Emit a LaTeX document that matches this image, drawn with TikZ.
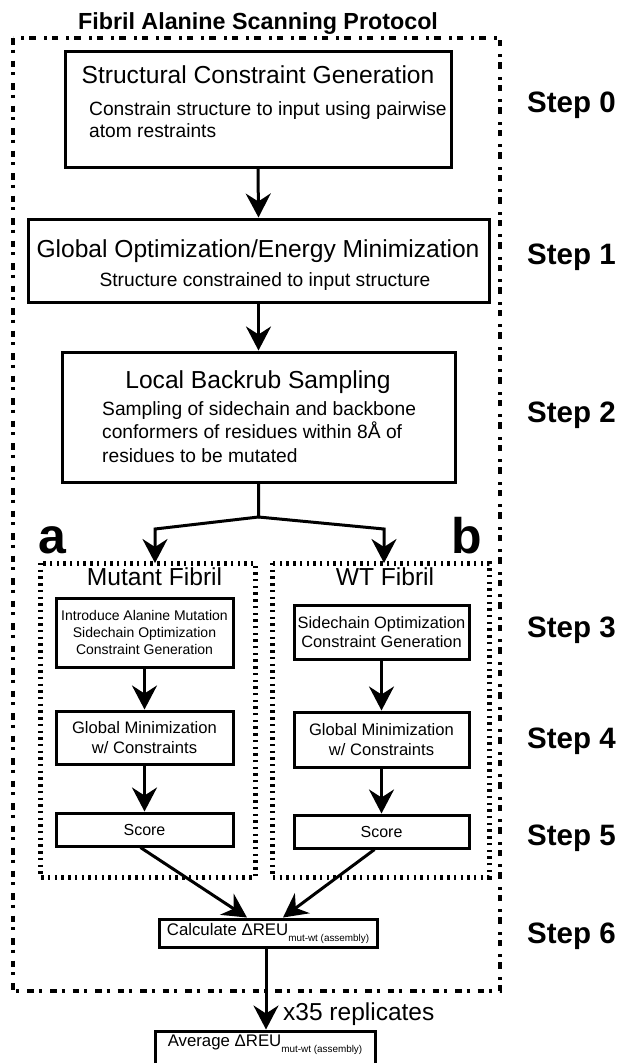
\documentclass[tikz,border=0pt]{standalone}
\usepackage{fontspec}
\setmainfont{Liberation Sans}
\usetikzlibrary{arrows.meta,calc}
\newcommand{\fsz}[2]{\fontsize{#1}{#2}\selectfont}
\newcommand{\mwt}{\raisebox{-6pt}{\fsz{9.9}{11}\selectfont mut-wt (assembly)}}

\begin{document}
\begin{tikzpicture}[x=1pt,y=-1pt,
  box/.style={draw, line width=3pt, inner sep=0pt, rectangle, align=center},
  flow/.style={line width=3pt, -{Stealth[length=24pt,width=25pt,inset=8pt]}},
  frame/.style={line width=3.4pt, dash pattern=on 6.5pt off 5pt on 3pt off 8pt},
  fibril/.style={line width=5pt, dash pattern=on 2.4pt off 4.3pt},
  steplbl/.style={anchor=base west, inner sep=0pt, font=\fsz{29.5}{35}\bfseries},
  head/.style={anchor=base, inner sep=0pt, font=\fsz{24.6}{29}},
  body/.style={anchor=base west, inner sep=0pt, font=\fsz{19.2}{23}},
  bigletter/.style={anchor=base west, inner sep=0pt, font=\fsz{50}{58}\bfseries},
]
\useasboundingbox (0,0) rectangle (624,1063);
\clip (0,0) rectangle (624,1063);

% title
\node[anchor=base, inner sep=0pt, font=\fsz{23.3}{28}\bfseries] (title) at (258,29) {Fibril Alanine Scanning Protocol};

% outer frame
\draw[frame] (13,38) rectangle (500,991);

% step 0
\node[box, minimum width=386pt, minimum height=116pt] (s0) at (258,109) {};
\node[head] (s0t) at (258,83) {Structural Constraint Generation};
\node[body] (s0a) at (89,115) {Constrain structure to input using pairwise};
\node[body] (s0b) at (89,137) {atom restraints};

% step 1
\node[box, minimum width=461pt, minimum height=83pt] (s1) at (258.5,260.5) {};
\node[head] (s1t) at (258,257) {Global Optimization/Energy Minimization};
\node[body, anchor=base] (s1a) at (265,286) {Structure constrained to input structure};

% step 2
\node[box, minimum width=393pt, minimum height=130pt] (s2) at (258.5,417) {};
\node[head] (s2t) at (258,388) {Local Backrub Sampling};
\node[body] (s2a) at (102,415) {Sampling of sidechain and backbone};
\node[body] (s2b) at (102,438.5) {conformers of residues within 8Å of};
\node[body] (s2c) at (102,462) {residues to be mutated};

\draw[flow] (s0.south) -- (s1.north);
\draw[flow] (s1.south) -- (s2.north);

% branches
\node[bigletter] (la) at (38,553) {a};
\node[bigletter] (lb) at (451,553) {b};

\draw[fibril] (40.5,563) rectangle (255,877);
\draw[fibril] (272,563) rectangle (489,877);
\coordinate (fa) at (155,563);
\coordinate (fb) at (384,563);
\coordinate (split) at (258.5,517);
\coordinate (ja) at (155,529);
\coordinate (jb) at (384,529);
\draw[flow] (s2.south) -- (split) -- (ja) -- (fa);
\draw[flow] (split) -- (jb) -- (fb);

\node[head] (mut) at (154.5,585) {Mutant Fibril};
\node[head] (wt) at (385,585) {WT Fibril};

% mutant column
\node[box, minimum width=177pt, minimum height=69pt, font=\fsz{14}{17}] (a3) at (144.5,632.5)
  {Introduce Alanine Mutation\\Sidechain Optimization\\Constraint Generation};
\node[box, minimum width=177pt, minimum height=53pt, font=\fsz{16.6}{19.5}] (a4) at (144.5,737.5)
  {Global Minimization\\w/ Constraints};
\node[box, minimum width=177pt, minimum height=33pt, font=\fsz{16}{19}] (a5) at (144.5,829.5) {Score};
\draw[flow] (a3.south) -- (a4.north);
\draw[flow] (a4.south) -- (a5.north);

% wild-type column
\node[box, minimum width=175pt, minimum height=54pt, font=\fsz{16.4}{19.5}] (b3) at (381.5,632)
  {Sidechain Optimization\\Constraint Generation};
\node[box, minimum width=175pt, minimum height=55pt, font=\fsz{16.6}{19.5}] (b4) at (381.5,739.5)
  {Global Minimization\\w/ Constraints};
\node[box, minimum width=175pt, minimum height=33pt, font=\fsz{16}{19}] (b5) at (381.5,831.5) {Score};
\draw[flow] (b3.south) -- (b4.north);
\draw[flow] (b4.south) -- (b5.north);

% step 6 and average
\node[box, minimum width=218pt, minimum height=28pt, text height=13pt, text depth=9pt, font=\fsz{16.8}{20}] (calc) at (268,933)
  {Calculate ΔREU\mwt};
\draw[flow] ($(a5.south)+(-4,0)$) -- ($(calc.north)+(-21,0)$);
\draw[flow] ($(b5.south)+(-7,0)$) -- ($(calc.north)+(15,0)$);

\node[box, minimum width=220pt, minimum height=44pt, text height=15pt, text depth=29pt, font=\fsz{16.8}{20}] (avg) at (265,1053)
  {Average ΔREU\mwt};
\draw[flow] ($(calc.south)+(-2,0)$) -- ($(avg.north)+(1,0)$);
\node[anchor=base west, inner sep=0pt, font=\fsz{24.5}{29}] (rep) at (283,1020) {x35 replicates};

% step labels
\node[steplbl] (st0) at (527,112) {Step 0};
\node[steplbl] (st1) at (527,264) {Step 1};
\node[steplbl] (st2) at (527,422) {Step 2};
\node[steplbl] (st3) at (527,637) {Step 3};
\node[steplbl] (st4) at (527,748) {Step 4};
\node[steplbl] (st5) at (527,845) {Step 5};
\node[steplbl] (st6) at (527,943) {Step 6};
\end{tikzpicture}
\end{document}
